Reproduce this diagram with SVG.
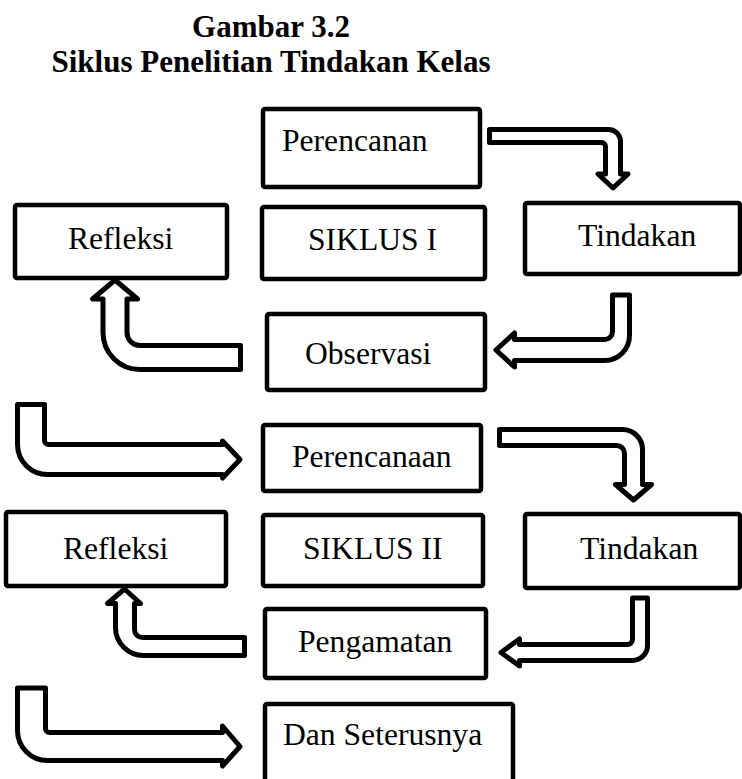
<svg xmlns="http://www.w3.org/2000/svg" width="742" height="779" viewBox="0 0 742 779">
<style>
.box{fill:#fff;stroke:#000;stroke-width:4.5;stroke-linejoin:round}
.arr{fill:#fff;stroke:#000;stroke-width:5;stroke-linejoin:round}
.t{font-family:"Liberation Serif","Times New Roman",serif;font-size:31.6px;fill:#000}
.title{font-family:"Liberation Serif","Times New Roman",serif;font-size:31px;font-weight:bold;fill:#000;text-anchor:middle}
</style>
<rect width="742" height="779" fill="#fff"/>
<g id="title">
<text class="title" x="271" y="37">Gambar 3.2</text>
<text class="title" x="271" y="72">Siklus Penelitian Tindakan Kelas</text>
</g>
<g id="connectors">
<path class="arr" d="M489.5,129.5 H608.5 A12,12 0 0 1 620.5,141.5 V174 H628 L613,188 L598,174 H605.5 V146.5 A4,4 0 0 0 601.5,142.5 H489.5 Z"/>
<path class="arr" d="M240.5,345.5 H140 A13,13 0 0 1 127,332.5 V299 H137.5 L115,280 L92.5,299 H103 V332.5 A37,37 0 0 0 140,369.5 H240.5 Z"/>
<path class="arr" d="M612.5,295 H629.5 V335.5 A25,25 0 0 1 604.5,360.5 H514.5 V367 L496,350 L514.5,333 V339.5 H604.5 A8,8 0 0 0 612.5,331.5 Z"/>
<path class="arr" d="M17.5,404.5 H44.5 V440.5 A4,4 0 0 0 48.5,444.5 H222.5 V441 L240,459.5 L222.5,478 V474.5 H47.5 A30,30 0 0 1 17.5,444.5 Z"/>
<path class="arr" d="M499.5,429.5 H622.5 A20,20 0 0 1 642.5,449.5 V484.5 H651.5 L633.5,500 L615.5,484.5 H624.5 V453.5 A8,8 0 0 0 616.5,445.5 H499.5 Z"/>
<path class="arr" d="M244.5,637.5 H142.5 A8,8 0 0 1 134.5,629.5 V603.5 H140.5 L124.5,589 L107.5,603.5 H115.5 V627.5 A28,28 0 0 0 143.5,655.5 H244.5 Z"/>
<path class="arr" d="M632.5,598 H647.5 V645.5 A15,15 0 0 1 632.5,660.5 H519.5 V666 L501,652.5 L519.5,639 V644.5 H627.5 A5,5 0 0 0 632.5,639.5 Z"/>
<path class="arr" d="M17.5,688 H45.5 V728.5 A4,4 0 0 0 49.5,732.5 H222.5 V726 L240,746.5 L222.5,766 V760.5 H47.5 A30,30 0 0 1 17.5,730.5 Z"/>
</g>
<g id="perencanan"><rect class="box" x="263" y="109" width="217" height="78" rx="2"/><text class="t" x="282" y="151">Perencanan</text></g>
<g id="refleksi1"><rect class="box" x="15" y="205" width="212" height="73" rx="2"/><text class="t" x="68" y="249">Refleksi</text></g>
<g id="siklus1"><rect class="box" x="262" y="207" width="223" height="72" rx="2"/><text class="t" x="308" y="250">SIKLUS I</text></g>
<g id="tindakan1"><rect class="box" x="525" y="203" width="215" height="71" rx="2"/><text class="t" x="578" y="246">Tindakan</text></g>
<g id="observasi"><rect class="box" x="267" y="314" width="218" height="76" rx="2"/><text class="t" x="305" y="364">Observasi</text></g>
<g id="perencanaan"><rect class="box" x="263" y="425" width="218" height="66" rx="2"/><text class="t" x="292" y="467">Perencanaan</text></g>
<g id="refleksi2"><rect class="box" x="6" y="512" width="220" height="74" rx="2"/><text class="t" x="63" y="559">Refleksi</text></g>
<g id="siklus2"><rect class="box" x="263" y="515" width="220" height="71" rx="2"/><text class="t" x="303" y="559">SIKLUS II</text></g>
<g id="tindakan2"><rect class="box" x="525" y="514" width="215" height="74" rx="2"/><text class="t" x="580" y="559">Tindakan</text></g>
<g id="pengamatan"><rect class="box" x="265" y="609" width="221" height="69" rx="2"/><text class="t" x="298" y="652">Pengamatan</text></g>
<g id="dan-seterusnya"><rect class="box" x="265" y="704" width="248" height="100" rx="2"/><text class="t" x="283" y="745">Dan Seterusnya</text></g>
</svg>
